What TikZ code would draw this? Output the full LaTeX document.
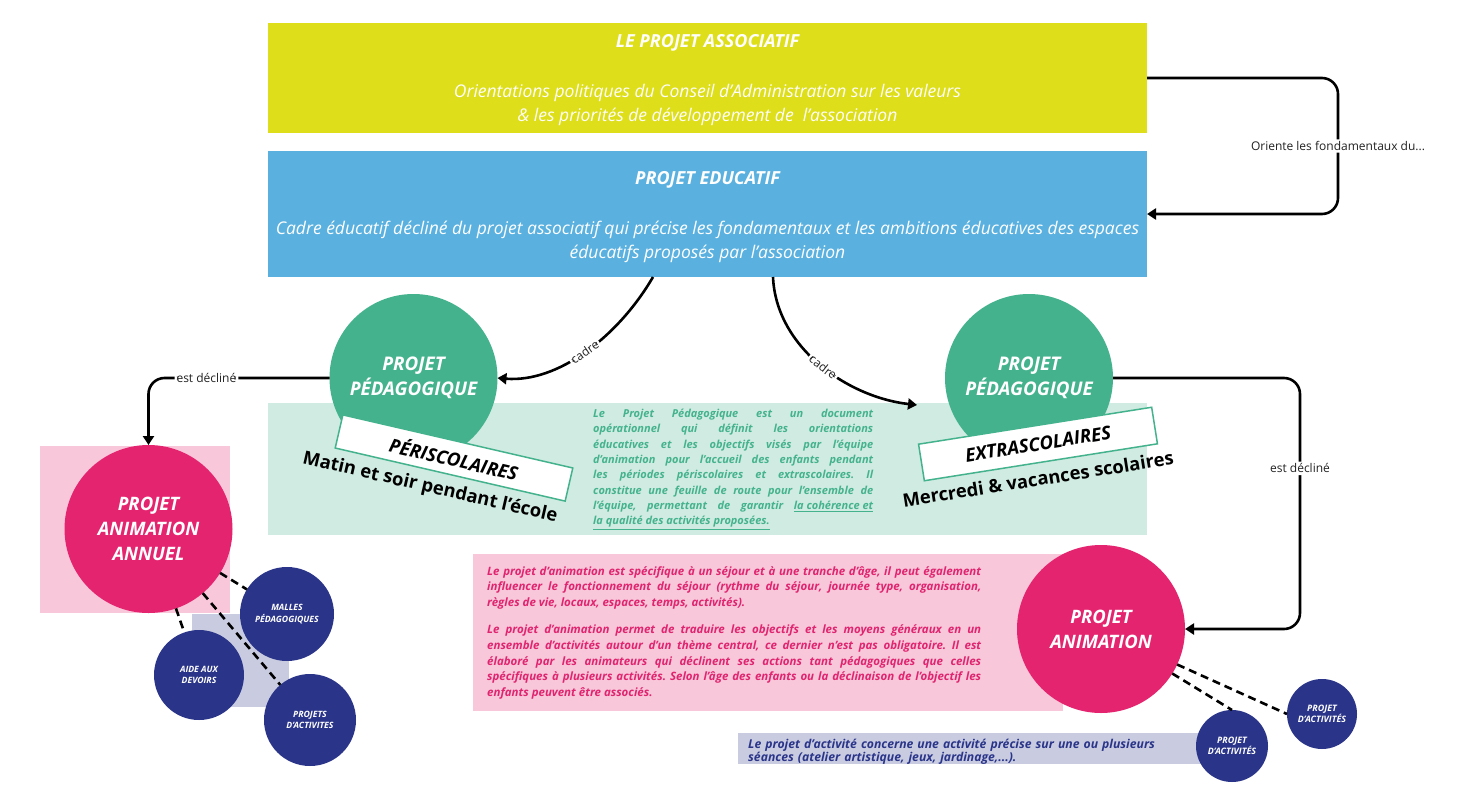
\documentclass[tikz,border=0pt]{standalone}
\usepackage{fontspec}
\setmainfont{Open Sans}
\usetikzlibrary{arrows.meta}
\definecolor{cYellow}{HTML}{DEDE1A}
\definecolor{cBlue}{HTML}{5AB1E0}
\definecolor{cGreen}{HTML}{44B38D}
\definecolor{cGreenL}{HTML}{D0EBE1}
\definecolor{cPink}{HTML}{E5246F}
\definecolor{cPinkT}{HTML}{E0246F}
\definecolor{cPinkL}{HTML}{F8C7DA}
\definecolor{cNavy}{HTML}{2A3589}
\definecolor{cLav}{HTML}{C9CCE1}
\definecolor{cText}{HTML}{222222}
\newcommand\fsz[2]{\fontsize{#1}{#2}\selectfont}
\frenchspacing
\begin{document}
\begin{tikzpicture}[x=1pt,y=-1pt,
  bg/.style={rectangle, inner sep=0pt, outer sep=0pt, anchor=north west},
  bigcirc/.style={circle, inner sep=0pt, outer sep=0pt, minimum size=168pt, align=center, text=white, font=\fsz{18.8}{25}\bfseries\itshape},
  smallcirc/.style={circle, fill=cNavy, inner sep=0pt, outer sep=0pt, align=center, text=white, font=\fsz{8.7}{11.5}\bfseries\itshape},
  conn/.style={line width=2.6pt, black, rounded corners=16pt, -{Triangle[length=9pt,width=11pt]}},
  dashconn/.style={line width=2.6pt, black, dash pattern=on 8pt off 5pt},
  lbl/.style={fill=white, inner sep=2pt, text=cText, font=\fsz{12}{14}},
  tagbox/.style={draw=cGreen, line width=1.5pt, fill=white, minimum width=236pt, minimum height=34pt, inner sep=0pt, font=\fsz{18.6}{20}\bfseries\itshape},
  subtxt/.style={font=\fsz{18.4}{20}\bfseries},
]
\fill[white] (0,0) rectangle (1467,792);
\useasboundingbox (0,0) rectangle (1467,792);

% top boxes
\node[bg, fill=cYellow, minimum width=879pt, minimum height=110pt] (assoc) at (268,23) {};
\node[text=white, font=\fsz{18}{20}\bfseries\itshape] (assocT) at (707.5,43) {LE PROJET ASSOCIATIF};
\node[text=white, align=center, font=\fsz{17.5}{24}\itshape] (assocS) at (707.5,105) {Orientations politiques du Conseil d’Administration sur les valeurs\\ \& les priorités de développement de\ \ l’association};

\node[bg, fill=cBlue, minimum width=879pt, minimum height=126pt] (educ) at (268,151) {};
\node[text=white, font=\fsz{18}{20}\bfseries\itshape] (educT) at (707.5,180) {PROJET EDUCATIF};
\node[text=white, align=center, font=\fsz{17.5}{24}\itshape] (educS) at (707.5,242) {Cadre éducatif décliné du projet associatif qui précise les fondamentaux et les ambitions éducatives des espaces\\ éducatifs proposés par l’association};

% background panels
\node[bg, fill=cGreenL, minimum width=879pt, minimum height=132pt] (pedbg) at (268,403) {};
\node[bg, fill=cPinkL, minimum width=190pt, minimum height=167pt] (annbg) at (40,446) {};
\node[bg, fill=cLav, minimum width=97pt, minimum height=93pt] (lavbg) at (192,614) {};
\node[bg, fill=cPinkL, minimum width=590pt, minimum height=157pt] (animbg) at (473,554) {};
\node[bg, fill=cLav, minimum width=470pt, minimum height=31pt] (actbg) at (738,733) {};

% circles
\node[bigcirc, fill=cGreen] (pedL) at (413.5,378) {PROJET\\PÉDAGOGIQUE};
\node[bigcirc, fill=cGreen] (pedR) at (1029,378) {PROJET\\PÉDAGOGIQUE};
\node[bigcirc, fill=cPink, font=\fsz{18.5}{25}\bfseries\itshape] (annuel) at (148.5,529) {PROJET\\ANIMATION\\ANNUEL};
\node[bigcirc, fill=cPink, font=\fsz{18.5}{25}\bfseries\itshape] (anim) at (1101,629) {PROJET\\ANIMATION};

\node[smallcirc, minimum size=94pt] (malles) at (287,614) {MALLES\\PÉDAGOGIQUES};
\node[smallcirc, minimum size=90pt] (aide) at (199,675) {AIDE AUX\\DEVOIRS};
\node[smallcirc, minimum size=92pt] (projL) at (310,720) {PROJETS\\D’ACTIVITES};
\node[smallcirc, minimum size=72pt, font=\fsz{8.9}{11.5}\bfseries\itshape] (act1) at (1232,746) {PROJET\\D’ACTIVITÉS};
\node[smallcirc, minimum size=70pt, font=\fsz{8.9}{11.5}\bfseries\itshape] (act2) at (1322,714) {PROJET\\D’ACTIVITÉS};

% tags
\node[tagbox, rotate=-13] (peri) at (454,458) {PÉRISCOLAIRES};
\node[subtxt, rotate=-13] (periS) at (430,488) {Matin et soir pendant l’école};
\node[tagbox, rotate=9, minimum height=37pt] (extra) at (1038,444) {EXTRASCOLAIRES};
\node[subtxt, rotate=9] (extraS) at (1038,479) {Mercredi \& vacances scolaires};

% paragraphs
\node[anchor=north west, inner sep=0pt, text width=280pt, align=justify, text=cGreen, font=\fsz{11}{15.3}\bfseries\itshape] (pedtxt) at (593,409)
{Le Projet Pédagogique est un document\linebreak opérationnel qui définit les orientations\linebreak éducatives et les objectifs visés par l'équipe\linebreak d'animation pour l'accueil des enfants pendant\linebreak les périodes périscolaires et extrascolaires. Il\linebreak constitue une feuille de route pour l'ensemble de\linebreak l'équipe, permettant de garantir \underline{la cohérence et}\linebreak \underline{la qualité des activités proposées.}};

\node[anchor=north west, inner sep=0pt, text width=494pt, align=justify, text=cPinkT, font=\fsz{11.5}{15.6}\bfseries\itshape] (animtxt) at (487,566)
{Le projet d’animation est spécifique à un séjour et à une tranche d’âge, il peut également\linebreak influencer le fonctionnement du séjour (rythme du séjour, journée type, organisation,\linebreak règles de vie, locaux, espaces, temps, activités).\par\vspace{12pt}
Le projet d’animation permet de traduire les objectifs et les moyens généraux en un\linebreak ensemble d’activités autour d’un thème central, ce dernier n’est pas obligatoire. Il est\linebreak élaboré par les animateurs qui déclinent ses actions tant pédagogiques que celles\linebreak spécifiques à plusieurs activités. Selon l’âge des enfants ou la déclinaison de l’objectif les\linebreak enfants peuvent être associés.};

\node[anchor=north west, inner sep=0pt, text width=450pt, align=left, text=cNavy, font=\fsz{12.2}{10.8}\bfseries\itshape] (acttxt) at (748,739)
{Le projet d'activité concerne une activité précise sur une ou plusieurs\\ séances (atelier artistique, jeux, jardinage,...).};

% connectors
\draw[conn] (assoc.east) -- ++(191,0) |- node[lbl, pos=0.25] {Oriente les fondamentaux du...} (educ.east);
\draw[conn] (pedL.west) -| node[lbl, pos=0.34] {est décliné} (annuel.north);
\draw[conn] (pedR.east) -- ++(187,0) |- node[lbl, pos=0.18] {est décliné} (anim.east);
\draw[conn] ([xshift=385pt]educ.south west) .. controls +(-35,60) and +(60,5) .. node[lbl, sloped, pos=0.5] {cadre} (pedL.east);
\draw[conn] ([xshift=505pt]educ.south west) .. controls +(3,70) and +(-70,-8) .. node[lbl, sloped, pos=0.52] {cadre} ([xshift=-28pt,yshift=-27pt]pedR.west);

\draw[dashconn] (annuel) -- (malles);
\draw[dashconn] (annuel) -- (aide);
\draw[dashconn] (annuel) -- (projL);
\draw[dashconn] (anim.-32) -- (act1.north);
\draw[dashconn] (anim.-25) -- (act2.west);
\end{tikzpicture}
\end{document}
